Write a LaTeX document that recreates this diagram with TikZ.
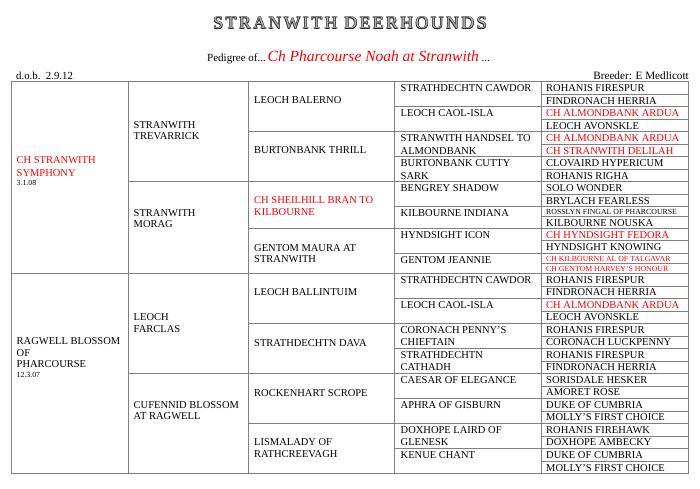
\documentclass[tikz,border=0pt]{standalone}
\usepackage{fontspec}
\setmainfont{Liberation Serif}
\newfontfamily\titlefont[LetterSpace=14]{Liberation Serif}
\definecolor{gridc}{RGB}{128,128,128}
\definecolor{redc}{RGB}{255,0,0}
\definecolor{titlefill}{RGB}{175,175,175}
\definecolor{titleline}{RGB}{30,30,30}
\tikzset{
  gridline/.style={draw=gridc, line width=0.9pt},
  txt/.style={inner sep=0pt, anchor=base west, font=\fontsize{10.5}{12}\selectfont},
  redtxt/.style={txt, text=redc},
  smalltxt/.style={txt, font=\fontsize{7.8}{9}\selectfont},
  smallred/.style={smalltxt, text=redc},
  datetxt/.style={txt, font=\fontsize{7.8}{9}\selectfont},
  titletxt/.style={anchor=base, inner sep=0pt, font=\fontsize{17.7}{20}\titlefont},
}
\begin{document}
\begin{tikzpicture}[x=1pt,y=-1pt]
\useasboundingbox (0,0) rectangle (700,488);
% ---- header (engraved-looking title: dark outline copies + light centre) ----
\node[titletxt, text=titleline] (titleA) at (349.5,28.0) {STRANWITH DEERHOUNDS};
\node[titletxt, text=titleline] (titleB) at (350.5,28.0) {STRANWITH DEERHOUNDS};
\node[titletxt, text=titleline] (titleC) at (349.5,29.0) {STRANWITH DEERHOUNDS};
\node[titletxt, text=titleline] (titleD) at (350.5,29.0) {STRANWITH DEERHOUNDS};
\node[titletxt, text=titlefill] (title) at (350,28.5) {STRANWITH DEERHOUNDS};
\node[anchor=base west, inner sep=0pt] (ped) at (207,61)
  {\fontsize{11}{13}\selectfont Pedigree of...\,{\color{redc}\fontsize{15.5}{18}\selectfont\itshape Ch Pharcourse Noah at Stranwith}\ ...};
\node[anchor=base west, inner sep=0pt] (dob) at (16,79) {\fontsize{10.8}{13}\selectfont d.o.b.\ \ 2.9.12};
\node[anchor=base east, inner sep=0pt] (breeder) at (689,79) {\fontsize{11.2}{13}\selectfont Breeder: E Medlicott};
% ---- grid ----
\draw[gridline] (11,81) rectangle (688,473.5);
\foreach \x in {128,248,394.5,541} \draw[gridline] (\x,81) -- (\x,473.5);
\draw[gridline] (11,273.5) -- (688,273.5);
\foreach \y in {181.7,373.3} \draw[gridline] (128,\y) -- (688,\y);
\foreach \y in {131.7,228.3,323.3,423.3} \draw[gridline] (248,\y) -- (688,\y);
\foreach \y in {106.7,156.7,206.7,253.3,298.3,348.3,398.3,448.3} \draw[gridline] (394.5,\y) -- (688,\y);
\foreach \y in {94,119.3,144.3,169.3,194.3,216.7,240.7,263.3,286,311,336,361,386,411,436,461} \draw[gridline] (541,\y) -- (688,\y);
% ---- generation 1 ----
\node[redtxt] (g1a1) at (16.5,163.7) {CH STRANWITH};
\node[redtxt] (g1a2) at (16.5,176) {SYMPHONY};
\node[datetxt] (g1a3) at (16.5,185.7) {3.1.08};
\node[txt] (g1b1) at (16.5,344.4) {RAGWELL BLOSSOM};
\node[txt] (g1b2) at (16.5,356) {OF};
\node[txt] (g1b3) at (16.5,367.7) {PHARCOURSE};
\node[datetxt] (g1b4) at (16.5,377) {12.3.07};
% ---- generation 2 ----
\node[txt] (g2a1) at (133.5,128) {STRANWITH};
\node[txt] (g2a2) at (133.5,139.7) {TREVARRICK};
\node[txt] (g2b1) at (133.5,216) {STRANWITH};
\node[txt] (g2b2) at (133.5,227.7) {MORAG};
\node[txt] (g2c1) at (133.5,320.4) {LEOCH};
\node[txt] (g2c2) at (133.5,332) {FARCLAS};
\node[txt] (g2d1) at (133.5,408) {CUFENNID BLOSSOM};
\node[txt] (g2d2) at (133.5,419.7) {AT RAGWELL};
% ---- generation 3 ----
\node[txt] (g3a) at (254,103.7) {LEOCH BALERNO};
\node[txt] (g3b) at (254,153.7) {BURTONBANK THRILL};
\node[redtxt] (g3c1) at (254,203.7) {CH SHEILHILL BRAN TO};
\node[redtxt] (g3c2) at (254,215.4) {KILBOURNE};
\node[txt] (g3d1) at (254,251) {GENTOM MAURA AT};
\node[txt] (g3d2) at (254,262.7) {STRANWITH};
\node[txt] (g3e) at (254,295.4) {LEOCH BALLINTUIM};
\node[txt] (g3f) at (254,346) {STRATHDECHTN DAVA};
\node[txt] (g3g) at (254,396) {ROCKENHART SCROPE};
\node[txt] (g3h1) at (254,445.4) {LISMALADY OF};
\node[txt] (g3h2) at (254,457.7) {RATHCREEVAGH};
% ---- generation 4 ----
\node[txt] (g4a) at (400.5,91.2) {STRATHDECHTN CAWDOR};
\node[txt] (g4b) at (400.5,116.9) {LEOCH CAOL-ISLA};
\node[txt] (g4c1) at (400.5,141.9) {STRANWITH HANDSEL TO};
\node[txt] (g4c2) at (400.5,154.2) {ALMONDBANK};
\node[txt] (g4d1) at (400.5,166.9) {BURTONBANK CUTTY};
\node[txt] (g4d2) at (400.5,179.2) {SARK};
\node[txt] (g4e) at (400.5,191.9) {BENGREY SHADOW};
\node[txt] (g4f) at (400.5,216.9) {KILBOURNE INDIANA};
\node[txt] (g4g) at (400.5,238.5) {HYNDSIGHT ICON};
\node[txt] (g4h) at (400.5,263.5) {GENTOM JEANNIE};
\node[txt] (g4i) at (400.5,283.7) {STRATHDECHTN CAWDOR};
\node[txt] (g4j) at (400.5,308.5) {LEOCH CAOL-ISLA};
\node[txt] (g4k1) at (400.5,333.5) {CORONACH PENNY’S};
\node[txt] (g4k2) at (400.5,345.8) {CHIEFTAIN};
\node[txt] (g4l1) at (400.5,358.5) {STRATHDECHTN};
\node[txt] (g4l2) at (400.5,370.8) {CATHADH};
\node[txt] (g4m) at (400.5,383.5) {CAESAR OF ELEGANCE};
\node[txt] (g4n) at (400.5,408.5) {APHRA OF GISBURN};
\node[txt] (g4o1) at (400.5,433.5) {DOXHOPE LAIRD OF};
\node[txt] (g4o2) at (400.5,445.8) {GLENESK};
\node[txt] (g4p) at (400.5,458.5) {KENUE CHANT};
% ---- generation 5 ----
\node[txt] (g5a) at (546,91.2) {ROHANIS FIRESPUR};
\node[txt] (g5b) at (546,104) {FINDRONACH HERRIA};
\node[redtxt] (g5c) at (546,116.7) {CH ALMONDBANK ARDUA};
\node[txt] (g5d) at (546,129.2) {LEOCH AVONSKLE};
\node[redtxt] (g5e) at (546,141.7) {CH ALMONDBANK ARDUA};
\node[redtxt] (g5f) at (546,154.2) {CH STRANWITH DELILAH};
\node[txt] (g5g) at (546,166.7) {CLOVAIRD HYPERICUM};
\node[txt] (g5h) at (546,179.2) {ROHANIS RIGHA};
\node[txt] (g5i) at (546,191.7) {SOLO WONDER};
\node[txt] (g5j) at (546,204.2) {BRYLACH FEARLESS};
\node[smalltxt] (g5k) at (546,214.5) {ROSSLYN FINGAL OF PHARCOURSE};
\node[txt] (g5l) at (546,226.2) {KILBOURNE NOUSKA};
\node[redtxt] (g5m) at (546,238.7) {CH HYNDSIGHT FEDORA};
\node[txt] (g5n) at (546,250.9) {HYNDSIGHT KNOWING};
\node[smallred] (g5o) at (546,261.1) {CH KILBOURNE AL OF TALGAVAR};
\node[smallred] (g5p) at (546,271.2) {CH GENTOM HARVEY’S HONOUR};
\node[txt] (g5q) at (546,283.5) {ROHANIS FIRESPUR};
\node[txt] (g5r) at (546,295.9) {FINDRONACH HERRIA};
\node[redtxt] (g5s) at (546,308.4) {CH ALMONDBANK ARDUA};
\node[txt] (g5t) at (546,320.9) {LEOCH AVONSKLE};
\node[txt] (g5u) at (546,333.4) {ROHANIS FIRESPUR};
\node[txt] (g5v) at (546,345.9) {CORONACH LUCKPENNY};
\node[txt] (g5w) at (546,358.4) {ROHANIS FIRESPUR};
\node[txt] (g5x) at (546,370.9) {FINDRONACH HERRIA};
\node[txt] (g5y) at (546,383.4) {SORISDALE HESKER};
\node[txt] (g5z) at (546,395.9) {AMORET ROSE};
\node[txt] (g5aa) at (546,408.4) {DUKE OF CUMBRIA};
\node[txt] (g5ab) at (546,420.9) {MOLLY’S FIRST CHOICE};
\node[txt] (g5ac) at (546,433.4) {ROHANIS FIREHAWK};
\node[txt] (g5ad) at (546,445.9) {DOXHOPE AMBECKY};
\node[txt] (g5ae) at (546,458.4) {DUKE OF CUMBRIA};
\node[txt] (g5af) at (546,471) {MOLLY’S FIRST CHOICE};
\end{tikzpicture}
\end{document}
